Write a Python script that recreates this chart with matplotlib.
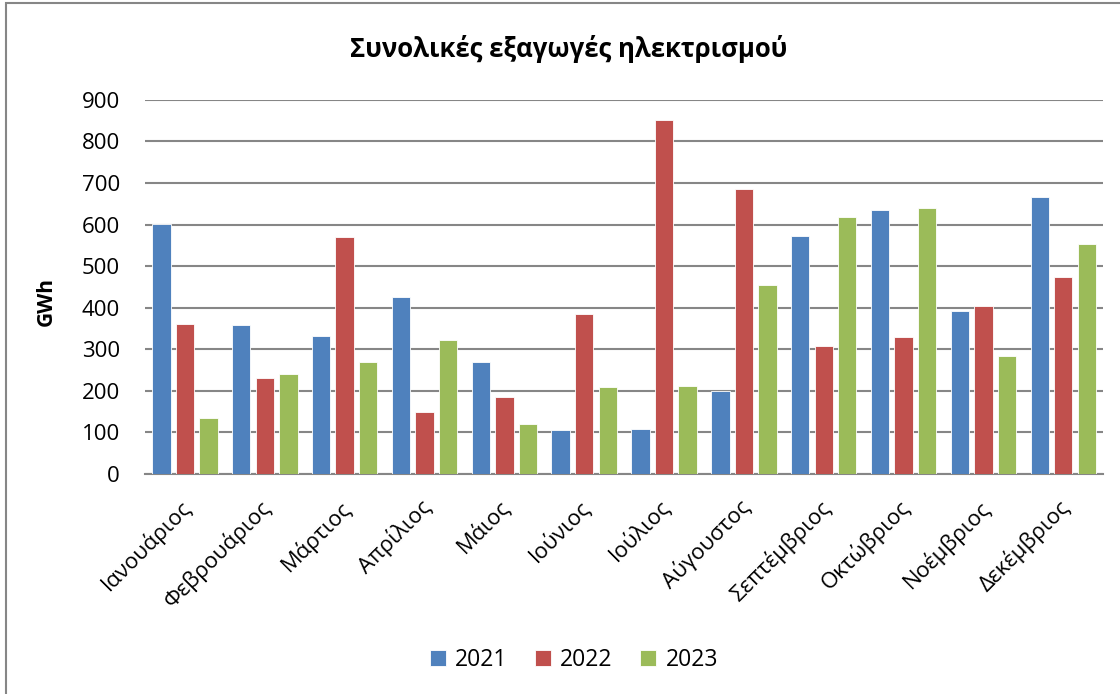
import numpy as np
import matplotlib
matplotlib.use('Agg')
from matplotlib import pyplot as plt
from matplotlib.patches import Rectangle
from matplotlib.transforms import ScaledTranslation

plt.rcParams['font.family'] = ['Open Sans', 'DejaVu Sans']

months = ['Ιανουάριος', 'Φεβρουάριος', 'Μάρτιος', 'Απρίλιος', 'Μάιος', 'Ιούνιος',
          'Ιούλιος', 'Αύγουστος', 'Σεπτέμβριος', 'Οκτώβριος', 'Νοέμβριος', 'Δεκέμβριος']
years = ['2021', '2022', '2023']
exports_2021 = [601, 359, 332, 427, 269, 106, 108, 200, 573, 634, 391, 667]
exports_2022 = [361, 232, 571, 148, 186, 385, 852, 685, 308, 330, 405, 475]
exports_2023 = [135, 241, 269, 323, 120, 209, 212, 455, 618, 639, 285, 553]
colors = ['#4f81bd', '#c0504d', '#9bbb59']

fig = plt.figure(figsize=(11.2, 6.94), dpi=100)
ax = fig.add_axes([0.1295, 0.317, 0.8555, 0.539])

x = np.arange(len(months))
width = 0.23
step = 0.295
for i, (vals, yr) in enumerate(zip([exports_2021, exports_2022, exports_2023], years)):
    ax.bar(x + (i - 1) * step, vals, width, color=colors[i], label=yr,
           edgecolor='white', linewidth=0.6, zorder=3)

ax.set_xlim(-0.5, len(months) - 0.5)
ax.set_ylim(0, 900)
ax.set_yticks(range(0, 901, 100))
ax.yaxis.grid(True, color='#868686', linewidth=1.5, zorder=0)
for s in ['top', 'right', 'left']:
    ax.spines[s].set_visible(False)
ax.spines['bottom'].set_color('#868686')
ax.spines['bottom'].set_linewidth(1.5)
ax.tick_params(axis='y', length=0, labelsize=16, pad=18)
ax.tick_params(axis='x', length=0, labelsize=16, pad=16)
ax.set_xticks(x)
ax.set_xticklabels(months, rotation=45, ha='right', va='top', rotation_mode='anchor')
# nudge rotated month labels so their ends sit just right of the group centre
shift = ScaledTranslation(-0.05, 0, fig.dpi_scale_trans)
for lbl in ax.get_xticklabels():
    lbl.set_transform(lbl.get_transform() + shift)

ax.set_ylabel('GWh', fontsize=15, fontweight='bold')
ax.yaxis.set_label_coords(-0.092, 0.46)
fig.text(0.508, 0.93, 'Συνολικές εξαγωγές ηλεκτρισμού', ha='center', va='center',
         fontsize=18.5, fontweight='bold')

fig.legend(loc='center', bbox_to_anchor=(0.5125, 0.049), ncol=3, frameon=False,
           fontsize=16.5, handlelength=0.7, handleheight=0.7, columnspacing=1.2,
           handletextpad=0.4)

fig.patches.append(Rectangle((0.0055, -0.05), 1.1, 1.0463, transform=fig.transFigure,
                             fill=False, edgecolor='#868686', linewidth=1.5))

fig.savefig('out.png', dpi=100)
